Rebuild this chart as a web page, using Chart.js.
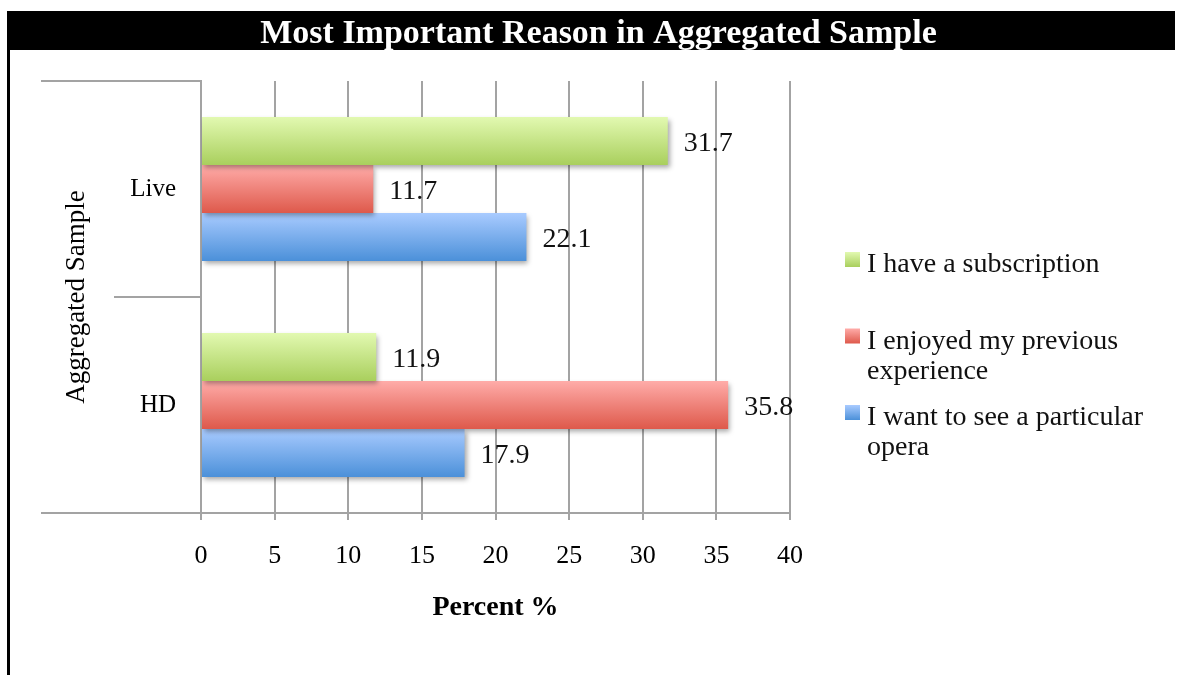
<!DOCTYPE html>
<html>
<head>
<meta charset="utf-8">
<title>Most Important Reason in Aggregated Sample</title>
<script src="https://cdn.jsdelivr.net/npm/chart.js@4.4.1/dist/chart.umd.min.js"></script>
<style>
  html, body { margin: 0; padding: 0; background: #fff; }
  #wrap { width: 1179px; height: 675px; }
</style>
</head>
<body>
<div id="wrap"><canvas id="plot" width="1179" height="675"></canvas></div>
<script>
// ---- data ----
const categories = ['Live', 'HD'];
const seriesNames = [
  'I have a subscription',
  'I enjoyed my previous experience',
  'I want to see a particular opera'
];
const subscription = [31.7, 11.9];
const enjoyedBefore = [11.7, 35.8];
const particularOpera = [22.1, 17.9];

const chartTitle = 'Most Important Reason in Aggregated Sample';
const xTitle = 'Percent %';
const yTitle = 'Aggregated Sample';

// top -> bottom colour of each bar's vertical gradient
const greenStops = ['#e2f9b1', '#a9cf5d'];
const redStops = ['#ffaca9', '#de594b'];
const blueStops = ['#a9cbff', '#4b90d9'];

const FONT = '"Liberation Serif", "Times New Roman", serif';
const GRID = '#a3a3a3';
const CAT_PCT = 0.667;

function vGradient(ctx, top, bottom, stops) {
  const g = ctx.createLinearGradient(0, top, 0, bottom);
  g.addColorStop(0, stops[0]);
  g.addColorStop(1, stops[1]);
  return g;
}

// one gradient per bar, worked out from the category scale
function barFill(stops) {
  return (c) => {
    const chart = c.chart;
    const y = chart.scales && chart.scales.y;
    if (c.type !== 'data' || !y || !chart.chartArea) return stops[1];
    const n = chart.data.datasets.length;
    const cat = y.height / chart.data.labels.length;
    const bar = cat * CAT_PCT / n;
    const top = y.getPixelForValue(c.dataIndex) - cat * CAT_PCT / 2 + c.datasetIndex * bar;
    return vGradient(chart.ctx, top, top + bar, stops);
  };
}

const datasets = [
  { label: seriesNames[0], data: subscription, stops: greenStops },
  { label: seriesNames[1], data: enjoyedBefore, stops: redStops },
  { label: seriesNames[2], data: particularOpera, stops: blueStops }
].map(d => ({
  label: d.label,
  data: d.data,
  stops: d.stops,
  backgroundColor: barFill(d.stops),
  borderWidth: 0,
  categoryPercentage: CAT_PCT,
  barPercentage: 1.0
}));

// black title band and the left frame edge
const framePlugin = {
  id: 'frame',
  beforeDraw(chart) {
    const ctx = chart.ctx;
    ctx.save();
    ctx.fillStyle = '#fff';
    ctx.fillRect(0, 0, chart.width, chart.height);
    ctx.fillStyle = '#000';
    ctx.fillRect(7, 11, 1168, 39);
    ctx.fillRect(7, 50, 3, chart.height - 50);
    ctx.restore();
  },
  // category separators on the left of the value axis
  afterDraw(chart) {
    const ctx = chart.ctx;
    const a = chart.chartArea;
    const y = chart.scales.y;
    const mid = (y.getPixelForValue(0) + y.getPixelForValue(1)) / 2;
    ctx.save();
    ctx.strokeStyle = GRID;
    ctx.lineWidth = 2;
    ctx.beginPath();
    ctx.moveTo(41, a.top); ctx.lineTo(a.left, a.top);
    ctx.moveTo(41, a.bottom); ctx.lineTo(a.left, a.bottom);
    ctx.moveTo(114, mid); ctx.lineTo(a.left, mid);
    ctx.stroke();
    ctx.restore();
  }
};

// soft shadow under bars, value labels past the bar ends
const barExtras = {
  id: 'barExtras',
  beforeDatasetsDraw(chart) {
    const ctx = chart.ctx;
    ctx.save();
    ctx.shadowColor = 'rgba(0,0,0,0.35)';
    ctx.shadowBlur = 5;
    ctx.shadowOffsetX = 2;
    ctx.shadowOffsetY = 3;
  },
  afterDatasetsDraw(chart) {
    const ctx = chart.ctx;
    ctx.restore();
    ctx.save();
    ctx.font = '28px ' + FONT;
    ctx.fillStyle = '#111';
    ctx.textAlign = 'left';
    ctx.textBaseline = 'middle';
    chart.data.datasets.forEach((ds, i) => {
      chart.getDatasetMeta(i).data.forEach((bar, j) => {
        ctx.fillText(ds.data[j].toFixed(1), bar.x + 16, bar.y + 3);
      });
    });
    ctx.restore();
  }
};

// legend on the right, text wrapped to a fixed width
const sideLegend = {
  id: 'sideLegend',
  afterDraw(chart) {
    const ctx = chart.ctx;
    const x0 = 845, textX = 867, top0 = 251, step = 76.5, lineH = 30, maxW = 300;
    ctx.save();
    ctx.font = '28px ' + FONT;
    ctx.textBaseline = 'alphabetic';
    chart.data.datasets.forEach((ds, i) => {
      const top = top0 + i * step;
      ctx.fillStyle = vGradient(ctx, top + 1, top + 16, ds.stops);
      ctx.fillRect(x0, top + 1, 15, 15);
      const words = ds.label.split(' ');
      const lines = [];
      let cur = '';
      words.forEach(w => {
        const t = cur ? cur + ' ' + w : w;
        if (ctx.measureText(t).width > maxW && cur) { lines.push(cur); cur = w; } else cur = t;
      });
      lines.push(cur);
      ctx.fillStyle = '#111';
      lines.forEach((ln, k) => ctx.fillText(ln, textX, top + 21 + k * lineH));
    });
    ctx.restore();
  }
};

new Chart(document.getElementById('plot'), {
  type: 'bar',
  data: { labels: categories, datasets },
  plugins: [framePlugin, barExtras, sideLegend],
  options: {
    indexAxis: 'y',
    responsive: false,
    animation: false,
    devicePixelRatio: 1,
    layout: { padding: { top: 11, right: 0, bottom: 0, left: 18 } },
    plugins: {
      legend: { display: false },
      tooltip: { enabled: false },
      title: {
        display: true,
        text: chartTitle,
        color: '#fff',
        font: { family: FONT, size: 34, weight: 'bold' },
        padding: { top: 3, bottom: 26.2 }
      }
    },
    scales: {
      x: {
        min: 0,
        max: 40,
        ticks: { stepSize: 5, color: '#000', padding: 21, font: { family: FONT, size: 26 } },
        grid: { color: GRID, lineWidth: 2, drawTicks: true, tickLength: 7 },
        border: { display: true, color: GRID, width: 2 },
        title: {
          display: true,
          text: xTitle,
          color: '#000',
          font: { family: FONT, size: 28, weight: 'bold' },
          padding: { top: 0, bottom: 50 }
        },
        afterFit(scale) { scale.height = 162; }
      },
      y: {
        ticks: { color: '#000', padding: 25, font: { family: FONT, size: 25 } },
        grid: { display: false, drawTicks: false },
        border: { display: true, color: GRID, width: 2 },
        title: {
          display: true,
          text: yTitle,
          color: '#000',
          font: { family: FONT, size: 27 },
          padding: { top: 42.8, bottom: 0 }
        },
        afterFit(scale) { scale.width = 183; }
      },
      // empty axis that keeps the right-hand room for the legend
      legendRoom: {
        type: 'linear',
        position: 'right',
        display: true,
        ticks: { display: false },
        grid: { display: false, drawTicks: false },
        border: { display: false },
        afterFit(scale) { scale.width = 389; }
      }
    }
  }
});
</script>
</body>
</html>
